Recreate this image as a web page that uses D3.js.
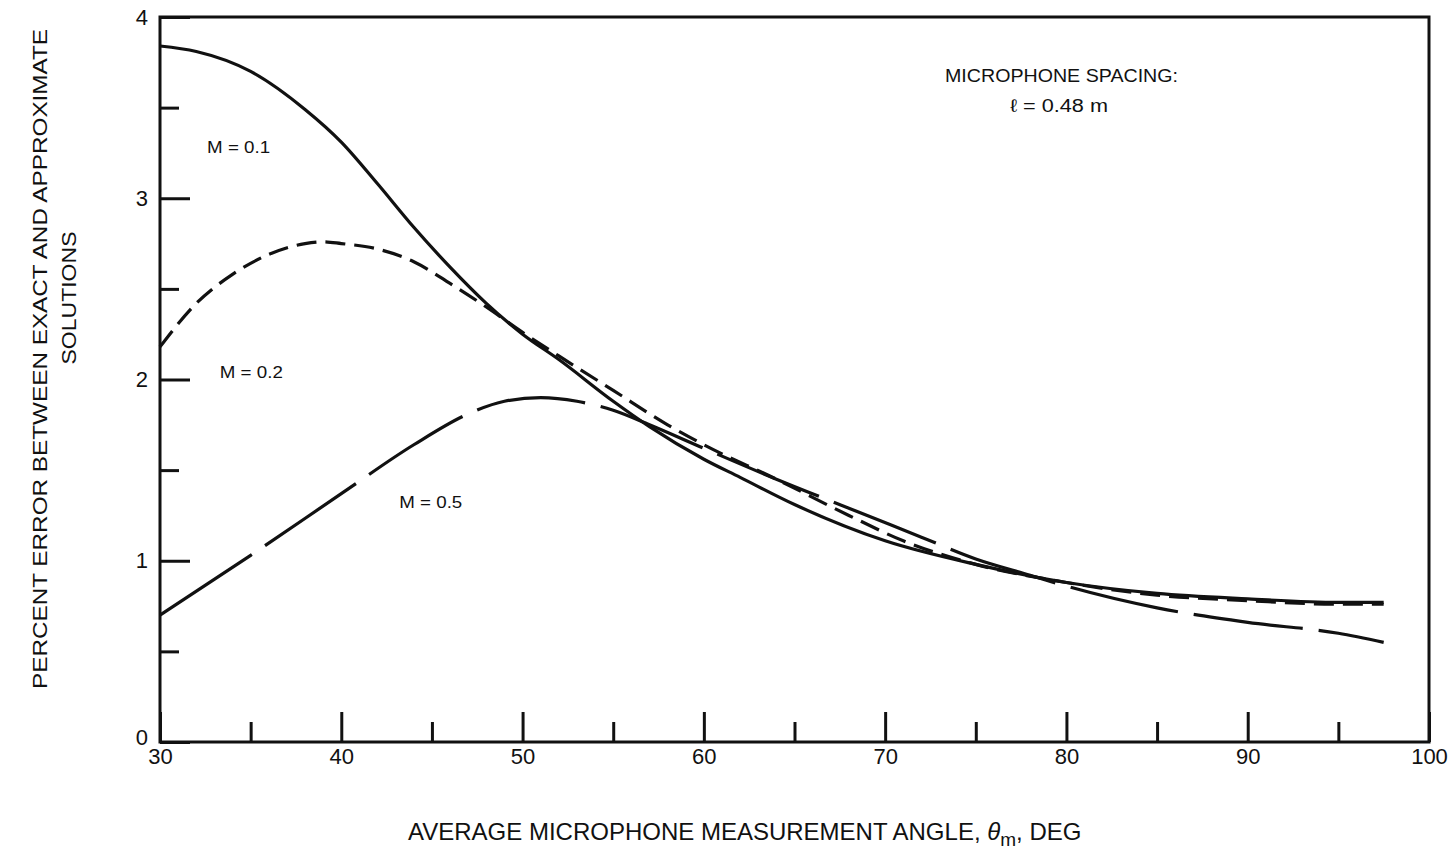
<!DOCTYPE html>
<html>
<head>
<meta charset="utf-8">
<script src="https://cdn.jsdelivr.net/npm/d3@7"></script>
<style>
  body { margin: 0; background: #fff; }
  text { font-family: "Liberation Sans", Arial, Helvetica, sans-serif; fill: #111; }
</style>
</head>
<body>
<script>
var w = 1451; // page width
var h = 853;  // page height

// Tick values
var xMajorTicks = [30, 40, 50, 60, 70, 80, 90, 100];
var xMinorTicks = [35, 45, 55, 65, 75, 85, 95];
var yMajorTicks = [0, 1, 2, 3, 4];
var yMinorTicks = [0.5, 1.5, 2.5, 3.5];

// M = 0.1 (solid)
var m01Angle = [30, 32, 35, 38, 40, 42, 44, 46, 48, 50, 52, 55, 57, 60, 62, 65, 70, 75, 80, 85, 90, 95, 97.5];
var m01Error = [3.84, 3.81, 3.70, 3.49, 3.31, 3.08, 2.84, 2.62, 2.42, 2.25, 2.11, 1.88, 1.74, 1.56, 1.46, 1.31, 1.11, 0.98, 0.88, 0.82, 0.79, 0.77, 0.77];

// M = 0.2 (short dashes)
var m02Angle = [30, 32, 34, 36, 38, 39, 40, 42, 44, 46, 48, 50, 52, 55, 58, 60, 64, 68, 71, 75, 80, 85, 90, 95, 97.5];
var m02Error = [2.18, 2.42, 2.58, 2.69, 2.75, 2.76, 2.75, 2.72, 2.65, 2.53, 2.40, 2.26, 2.13, 1.94, 1.75, 1.64, 1.45, 1.25, 1.11, 0.98, 0.88, 0.81, 0.78, 0.76, 0.76];

// M = 0.5 (long dashes)
var m05Angle = [30, 35, 40, 44, 47, 49, 51, 53, 55, 57, 60, 64, 68, 72, 75, 78, 80, 85, 90, 95, 97.5];
var m05Error = [0.70, 1.03, 1.37, 1.64, 1.81, 1.88, 1.90, 1.88, 1.83, 1.75, 1.62, 1.45, 1.29, 1.13, 1.01, 0.92, 0.86, 0.74, 0.66, 0.60, 0.55];

var seriesList = [
  { name: "M = 0.1", x: m01Angle, y: m01Error, dash: null },
  { name: "M = 0.2", x: m02Angle, y: m02Error, dash: "20,9" },
  { name: "M = 0.5", x: m05Angle, y: m05Error, dash: "110,16" }
];

// Scales
var xScale = d3.scaleLinear().domain([30, 100]).range([160, 1429]);
var yScale = d3.scaleLinear().domain([0, 4]).range([742, 17]);

var svg = d3.select("body").append("svg")
    .attr("width", w)
    .attr("height", h);

// Frame
svg.append("rect")
    .attr("x", xScale(30))
    .attr("y", yScale(4))
    .attr("width", xScale(100) - xScale(30))
    .attr("height", yScale(0) - yScale(4))
    .attr("fill", "none")
    .attr("stroke", "#111")
    .attr("stroke-width", 3);

// Y axis: majors with labels, minors without
var yAxisMajor = d3.axisLeft(yScale)
    .tickValues(yMajorTicks)
    .tickSizeInner(-30)
    .tickSizeOuter(0)
    .tickPadding(12)
    .tickFormat(d3.format("d"));

var yAxisMinor = d3.axisLeft(yScale)
    .tickValues(yMinorTicks)
    .tickSizeInner(-19)
    .tickSizeOuter(0)
    .tickFormat("");

svg.append("g")
    .attr("class", "y-axis")
    .attr("transform", "translate(" + xScale(30) + ",0)")
    .call(yAxisMajor);

svg.append("g")
    .attr("class", "y-axis-minor")
    .attr("transform", "translate(" + xScale(30) + ",0)")
    .call(yAxisMinor);

// X axis
var xAxisMajor = d3.axisBottom(xScale)
    .tickValues(xMajorTicks)
    .tickSizeInner(-30)
    .tickSizeOuter(0)
    .tickPadding(6)
    .tickFormat(d3.format("d"));

var xAxisMinor = d3.axisBottom(xScale)
    .tickValues(xMinorTicks)
    .tickSizeInner(-20)
    .tickSizeOuter(0)
    .tickFormat("");

svg.append("g")
    .attr("class", "x-axis")
    .attr("transform", "translate(0," + yScale(0) + ")")
    .call(xAxisMajor);

svg.append("g")
    .attr("class", "x-axis-minor")
    .attr("transform", "translate(0," + yScale(0) + ")")
    .call(xAxisMinor);

// axis styling
svg.selectAll(".domain").remove();
svg.selectAll(".tick line").attr("stroke", "#111").attr("stroke-width", 3);
svg.selectAll(".y-axis .tick text").style("font-size", "22px").attr("fill", "#111");
svg.select(".y-axis .tick text").attr("dy", "0.1em"); // "0" sits a bit higher
svg.selectAll(".x-axis .tick text").style("font-size", "22px").attr("fill", "#111");

// Curves
var line = d3.line()
    .x(function(d) { return xScale(d[0]); })
    .y(function(d) { return yScale(d[1]); })
    .curve(d3.curveMonotoneX);

svg.selectAll("path.curve")
    .data(seriesList)
    .join("path")
    .attr("class", "curve")
    .attr("d", function(s) {
        return line(s.x.map(function(v, i) { return [v, s.y[i]]; }));
    })
    .attr("fill", "none")
    .attr("stroke", "#111")
    .attr("stroke-width", 3.2)
    .attr("stroke-dasharray", function(s) { return s.dash; });

// Curve labels
var curveLabels = [
  { text: "M = 0.1", x: 32.6, y: 3.25 },
  { text: "M = 0.2", x: 33.3, y: 2.01 },
  { text: "M = 0.5", x: 43.2, y: 1.29 }
];

svg.selectAll("text.m-label")
    .data(curveLabels)
    .join("text")
    .attr("class", "m-label")
    .attr("x", function(d) { return xScale(d.x); })
    .attr("y", function(d) { return yScale(d.y); })
    .attr("textLength", 63)
    .attr("lengthAdjust", "spacingAndGlyphs")
    .style("font-size", "17px")
    .text(function(d) { return d.text; });

// Spacing note
svg.append("text")
    .attr("x", 945)
    .attr("y", 82)
    .attr("textLength", 233)
    .attr("lengthAdjust", "spacingAndGlyphs")
    .style("font-size", "18px")
    .text("MICROPHONE SPACING:");

svg.append("text")
    .attr("x", 1010)
    .attr("y", 112)
    .attr("textLength", 98)
    .attr("lengthAdjust", "spacingAndGlyphs")
    .style("font-size", "18px")
    .text("ℓ = 0.48 m");

// X axis title
var xTitle = svg.append("text")
    .attr("x", 408)
    .attr("y", 840)
    .style("font-size", "24px");
xTitle.append("tspan").text("AVERAGE MICROPHONE MEASUREMENT ANGLE, ");
xTitle.append("tspan").style("font-style", "italic").text("θ");
xTitle.append("tspan").attr("dy", 6).style("font-size", "19px").text("m");
xTitle.append("tspan").attr("dy", -6).text(", DEG");

// Y axis title (two lines)
svg.append("text")
    .attr("transform", "translate(47,359) rotate(-90)")
    .attr("text-anchor", "middle")
    .attr("textLength", 660)
    .attr("lengthAdjust", "spacingAndGlyphs")
    .style("font-size", "21px")
    .text("PERCENT ERROR BETWEEN EXACT AND APPROXIMATE");

svg.append("text")
    .attr("transform", "translate(76,298) rotate(-90)")
    .attr("text-anchor", "middle")
    .attr("textLength", 133)
    .attr("lengthAdjust", "spacingAndGlyphs")
    .style("font-size", "21px")
    .text("SOLUTIONS");
</script>
</body>
</html>
